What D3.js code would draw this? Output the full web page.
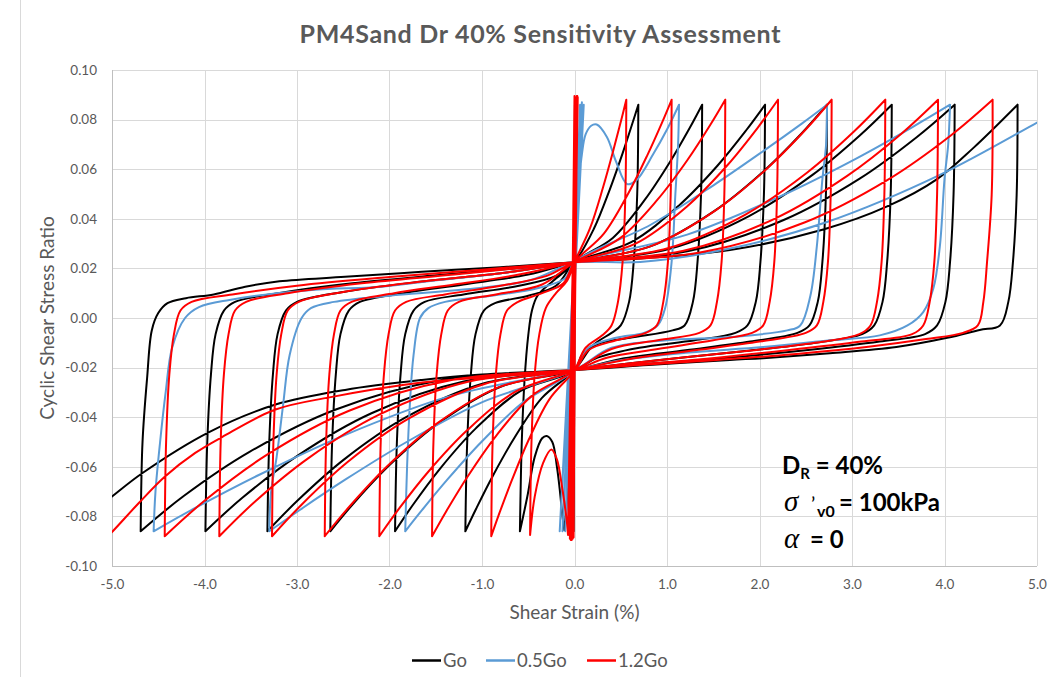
<!DOCTYPE html>
<html><head><meta charset="utf-8">
<script src="https://cdn.jsdelivr.net/npm/d3@7"></script>
<style>
body{margin:0;background:#fff;}
svg{display:block;}
</style>
</head><body>
<svg id="chart" width="1059" height="677"></svg>
<script>
// ---------- data ----------
const chartTitle = "PM4Sand Dr 40% Sensitivity Assessment";
const xAxisTitle = "Shear Strain (%)";
const yAxisTitle = "Cyclic Shear Stress Ratio";
const xTicks = [-5, -4, -3, -2, -1, 0, 1, 2, 3, 4, 5];
const yTicks = [-0.10, -0.08, -0.06, -0.04, -0.02, 0.00, 0.02, 0.04, 0.06, 0.08, 0.10];
const seriesNames = ["Go", "0.5Go", "1.2Go"];

// [shear strain %, cyclic shear stress ratio]
const goPoints = [
[0,0],[0.005,0.086],[-0.01,-0.086],[0.01,0.086],[-0.02,-0.086],[0.02,0.086],
[0.0,0.02],[-0.04,-0.04],[-0.08,-0.072],[-0.11,-0.0855],[-0.13,-0.08],[-0.16,-0.069],[-0.19,-0.06],[-0.24,-0.05],[-0.30,-0.0476],[-0.35,-0.0485],[-0.43,-0.056],[-0.51,-0.072],[-0.59,-0.086],
[-0.57,-0.05],[-0.54,-0.025],[-0.5,-0.007],[-0.46,0.003],[-0.40,0.009],[-0.23,0.015],[0,0.0225],
[0.207,0.0358],[0.38,0.0517],[0.518,0.0662],[0.621,0.0779],[0.69,0.086],
[0.678,0.05],[0.64,0.0226],[0.59,0.0065],[0.50,-0.003],[0.40,-0.006],[0.2,-0.011],[0,-0.021],
[-0.354,-0.0323],[-0.649,-0.0483],[-0.885,-0.0638],[-1.062,-0.0768],[-1.18,-0.086],
[-1.16,-0.05],[-1.12,-0.0226],[-1.07,-0.0065],[-0.98,0.003],[-0.86,0.006],[-0.5,0.009],[-0.2,0.013],[0,0.0225],
[0.414,0.0323],[0.759,0.0476],[1.035,0.0631],[1.242,0.0764],[1.38,0.086],
[1.368,0.05],[1.33,0.0226],[1.28,0.0065],[1.19,-0.003],[1.06,-0.005],[0.6,-0.008],[0.25,-0.0105],[0.08,-0.015],[0,-0.021],
[-0.582,-0.0294],[-1.067,-0.0445],[-1.455,-0.0608],[-1.746,-0.0753],[-1.94,-0.086],
[-1.92,-0.05],[-1.88,-0.0226],[-1.83,-0.0065],[-1.74,0.003],[-1.62,0.0065],[-1.2,0.0095],[-0.6,0.013],[-0.2,0.017],[0,0.0225],
[0.618,0.0307],[1.133,0.0455],[1.545,0.0614],[1.854,0.0756],[2.06,0.086],
[2.048,0.05],[2.01,0.0226],[1.96,0.0065],[1.87,-0.003],[1.74,-0.006],[1.3,-0.009],[0.7,-0.012],[0.25,-0.016],[0,-0.021],
[-0.792,-0.0276],[-1.452,-0.0419],[-1.98,-0.0586],[-2.376,-0.0742],[-2.64,-0.086],
[-2.62,-0.05],[-2.58,-0.0226],[-2.53,-0.0065],[-2.44,0.003],[-2.32,0.0065],[-1.85,0.010],[-1.2,0.0135],[-0.5,0.0175],[0,0.0225],
[0.819,0.0289],[1.502,0.0429],[2.048,0.0593],[2.457,0.0745],[2.73,0.086],
[2.718,0.05],[2.68,0.0226],[2.63,0.0065],[2.54,-0.003],[2.41,-0.006],[1.9,-0.0095],[1.2,-0.013],[0.5,-0.0165],[0,-0.021],
[-0.996,-0.0265],[-1.826,-0.0401],[-2.49,-0.057],[-2.988,-0.0734],[-3.32,-0.086],
[-3.30,-0.05],[-3.26,-0.0226],[-3.21,-0.0065],[-3.12,0.003],[-3.0,0.0065],[-2.5,0.0105],[-1.7,0.0145],[-0.8,0.018],[0,0.0225],
[1.029,0.0279],[1.887,0.0411],[2.573,0.0577],[3.087,0.0737],[3.43,0.086],
[3.418,0.05],[3.38,0.0226],[3.33,0.0065],[3.24,-0.003],[3.11,-0.0065],[2.6,-0.010],[1.8,-0.0135],[0.9,-0.017],[0,-0.021],
[-1.197,-0.0256],[-2.195,-0.0384],[-2.993,-0.0555],[-3.591,-0.0725],[-3.99,-0.086],
[-3.97,-0.05],[-3.93,-0.0226],[-3.88,-0.0065],[-3.79,0.003],[-3.67,0.0065],[-3.2,0.010],[-2.4,0.014],[-1.4,0.0175],[-0.5,0.0205],[0,0.0225],
[1.233,0.027],[2.261,0.0395],[3.083,0.0562],[3.699,0.0729],[4.11,0.086],
[4.098,0.05],[4.06,0.0226],[4.01,0.0065],[3.92,-0.003],[3.79,-0.0065],[3.3,-0.0095],[2.5,-0.013],[1.5,-0.0165],[0.6,-0.019],[0,-0.021],
[-1.407,-0.0248],[-2.58,-0.0369],[-3.518,-0.0541],[-4.221,-0.0717],[-4.69,-0.086],
[-4.67,-0.05],[-4.62,-0.024],[-4.57,-0.005],[-4.50,0.002],[-4.40,0.006],[-4.2,0.008],[-3.9,0.0095],[-3.56,0.0126],[-3.19,0.0148],[-2.48,0.0166],[-1.65,0.0186],[-0.8,0.0205],[0,0.0225],
[0.71,0.024],[1.68,0.0274],[2.69,0.0357],[3.38,0.045],[3.92,0.056],[4.31,0.0685],[4.79,0.086],
[4.78,0.0496],[4.74,0.0226],[4.69,0.0065],[4.6,-0.003],[4.38,-0.0048],[4.03,-0.008],[3.48,-0.0117],[2.76,-0.0142],[2.04,-0.0162],[1.68,-0.0169],[0.8,-0.019],[0,-0.021],
[-1.0,-0.0228],[-1.65,-0.025],[-2.48,-0.029],[-3.24,-0.035],[-3.95,-0.046],[-4.67,-0.0625],[-5.0,-0.072],[-5.3,-0.081]
];

const halfGoPoints = [
[0,0],[0.03,0.086],[-0.07,-0.086],[0.06,0.086],[-0.10,-0.086],[0.08,0.087],[-0.13,-0.086],[0.10,0.086],[-0.16,-0.086],
[-0.08,-0.03],[0.0,0.025],[0.05,0.055],[0.08,0.066],[0.12,0.074],[0.18,0.0775],[0.24,0.078],[0.35,0.073],[0.45,0.063],[0.57,0.054],[0.67,0.0556],[0.85,0.066],[1.0,0.076],[1.13,0.086],
[1.12,0.07],[1.09,0.0496],[1.05,0.0226],[0.98,0.004],[0.90,-0.003],[0.75,-0.006],[0.45,-0.008],[0.15,-0.012],[0,-0.021],
[-0.549,-0.0338],[-1.007,-0.050],[-1.373,-0.0651],[-1.647,-0.0774],[-1.83,-0.086],
[-1.81,-0.06],[-1.78,-0.035],[-1.74,-0.015],[-1.67,0.0],[-1.58,0.004],[-1.4,0.0065],[-0.9,0.009],[-0.4,0.012],[-0.1,0.016],[0,0.0225],
[0.819,0.0375],[1.502,0.0535],[2.048,0.0675],[2.457,0.0784],[2.73,0.086],
[2.72,0.07],[2.68,0.056],[2.62,0.029],[2.55,0.009],[2.44,-0.003],[2.3,-0.005],[1.68,-0.0077],[1.0,-0.009],[0.4,-0.012],[0,-0.021],
[-0.99,-0.0338],[-1.815,-0.050],[-2.475,-0.0651],[-2.97,-0.0774],[-3.30,-0.086],
[-3.28,-0.07],[-3.22,-0.056],[-3.15,-0.035],[-3.08,-0.015],[-2.95,0.0],[-2.85,0.004],[-2.6,0.0065],[-2.0,0.009],[-1.2,0.0115],[-0.5,0.015],[0,0.0225],
[1.218,0.0336],[2.233,0.0492],[3.045,0.0643],[3.654,0.077],[4.06,0.086],
[4.04,0.07],[4.0,0.056],[3.95,0.029],[3.88,0.012],[3.77,0.0024],[3.6,-0.003],[3.3,-0.007],[2.76,-0.009],[2.04,-0.0117],[1.2,-0.014],[0.5,-0.017],[0,-0.021],
[-1.365,-0.0317],[-2.503,-0.0475],[-3.413,-0.0633],[-4.095,-0.0765],[-4.55,-0.086],
[-4.53,-0.07],[-4.48,-0.05],[-4.42,-0.03],[-4.35,-0.012],[-4.21,0.0],[-4.06,0.0044],[-3.73,0.0073],[-2.84,0.0113],[-2.12,0.0125],[-1.65,0.0145],[-0.8,0.018],[0,0.0225],
[0.71,0.0226],[1.68,0.028],[2.73,0.0387],[3.95,0.0577],[5.01,0.079],[5.3,0.085]
];

const onePointTwoGoPoints = [
[0,0],[0.01,0.0885],[-0.01,-0.0885],[0.02,0.089],[-0.02,-0.089],[0.03,0.0895],[-0.03,-0.0895],[0.015,0.089],[-0.04,-0.0895],[0.0,0.0895],[-0.05,-0.089],[0.035,0.089],[-0.045,-0.0885],[0.025,0.0895],[-0.035,-0.0895],[0.01,0.0885],
[-0.02,0.02],[-0.05,-0.04],[-0.07,-0.0875],[-0.08,-0.083],[-0.10,-0.077],[-0.135,-0.068],[-0.19,-0.057],[-0.25,-0.053],[-0.34,-0.0585],[-0.43,-0.072],[-0.48,-0.0875],
[-0.465,-0.05],[-0.43,-0.0226],[-0.38,-0.0065],[-0.31,0.004],[-0.2,0.010],[-0.08,0.015],[0,0.0225],
[0.168,0.0362],[0.308,0.0526],[0.42,0.0676],[0.504,0.0796],[0.56,0.088],
[0.55,0.05],[0.52,0.0226],[0.47,0.0065],[0.40,-0.003],[0.3,-0.007],[0.12,-0.012],[0,-0.021],
[-0.27,-0.0327],[-0.495,-0.0491],[-0.675,-0.0652],[-0.81,-0.0785],[-0.90,-0.088],
[-0.885,-0.05],[-0.85,-0.0226],[-0.80,-0.0065],[-0.73,0.003],[-0.61,0.0065],[-0.35,0.010],[-0.12,0.014],[0,0.0225],
[0.315,0.0339],[0.578,0.050],[0.788,0.0657],[0.945,0.0787],[1.05,0.088],
[1.04,0.05],[1.01,0.0226],[0.96,0.0065],[0.89,-0.003],[0.77,-0.006],[0.45,-0.009],[0.15,-0.013],[0,-0.021],
[-0.462,-0.0314],[-0.847,-0.0475],[-1.155,-0.0639],[-1.386,-0.0779],[-1.54,-0.088],
[-1.525,-0.05],[-1.49,-0.0226],[-1.44,-0.0065],[-1.37,0.003],[-1.25,0.0065],[-0.85,0.0095],[-0.35,0.0135],[0,0.0225],
[0.489,0.0321],[0.897,0.0477],[1.223,0.0638],[1.467,0.0778],[1.63,0.088],
[1.62,0.05],[1.59,0.0226],[1.54,0.0065],[1.47,-0.003],[1.35,-0.006],[0.9,-0.009],[0.4,-0.0125],[0,-0.021],
[-0.633,-0.0296],[-1.161,-0.0453],[-1.583,-0.0621],[-1.899,-0.077],[-2.11,-0.088],
[-2.095,-0.05],[-2.06,-0.0226],[-2.01,-0.0065],[-1.94,0.003],[-1.82,0.0065],[-1.4,0.0095],[-0.8,0.013],[-0.3,0.017],[0,0.0225],
[0.66,0.030],[1.21,0.0448],[1.65,0.0615],[1.98,0.0767],[2.20,0.088],
[2.19,0.05],[2.16,0.0226],[2.11,0.0065],[2.04,-0.003],[1.92,-0.006],[1.5,-0.009],[0.9,-0.0125],[0.35,-0.016],[0,-0.021],
[-0.81,-0.0278],[-1.485,-0.0425],[-2.025,-0.0598],[-2.43,-0.0759],[-2.70,-0.088],
[-2.685,-0.05],[-2.65,-0.0226],[-2.60,-0.0065],[-2.53,0.003],[-2.41,0.0065],[-1.95,0.010],[-1.3,0.0135],[-0.6,0.0175],[0,0.0225],
[0.834,0.0291],[1.529,0.0435],[2.085,0.0604],[2.502,0.0761],[2.78,0.088],
[2.77,0.05],[2.74,0.0226],[2.69,0.0065],[2.62,-0.003],[2.50,-0.006],[2.0,-0.0095],[1.3,-0.013],[0.6,-0.0165],[0,-0.021],
[-0.981,-0.0267],[-1.799,-0.0407],[-2.453,-0.0581],[-2.943,-0.075],[-3.27,-0.088],
[-3.255,-0.05],[-3.22,-0.0226],[-3.17,-0.0065],[-3.10,0.003],[-2.98,0.0065],[-2.5,0.0105],[-1.7,0.0145],[-0.8,0.018],[0,0.0225],
[1.008,0.0281],[1.848,0.0417],[2.52,0.0588],[3.024,0.0753],[3.36,0.088],
[3.35,0.05],[3.32,0.0226],[3.27,0.0065],[3.20,-0.003],[3.08,-0.0065],[2.6,-0.010],[1.8,-0.0135],[0.9,-0.017],[0,-0.021],
[-1.152,-0.0257],[-2.112,-0.039],[-2.88,-0.0566],[-3.456,-0.0741],[-3.84,-0.088],
[-3.825,-0.05],[-3.79,-0.0226],[-3.74,-0.0065],[-3.67,0.003],[-3.55,0.0065],[-3.1,0.010],[-2.3,0.014],[-1.3,0.0175],[-0.5,0.0205],[0,0.0225],
[1.179,0.0271],[2.162,0.040],[2.948,0.0573],[3.537,0.0744],[3.93,0.088],
[3.92,0.05],[3.89,0.0226],[3.84,0.0065],[3.77,-0.003],[3.65,-0.0065],[3.1,-0.0095],[2.3,-0.013],[1.4,-0.0165],[0.6,-0.019],[0,-0.021],
[-1.329,-0.025],[-2.437,-0.0374],[-3.323,-0.0551],[-3.987,-0.0733],[-4.43,-0.088],
[-4.415,-0.05],[-4.38,-0.0226],[-4.33,-0.0065],[-4.26,0.003],[-4.14,0.0065],[-3.7,0.0095],[-3.0,0.013],[-2.0,0.0165],[-1.0,0.0195],[0,0.0225],
[1.356,0.0264],[2.486,0.0385],[3.39,0.0558],[4.068,0.0736],[4.52,0.088],
[4.51,0.0496],[4.46,0.0226],[4.42,0.0065],[4.36,-0.003],[4.2,-0.006],[3.8,-0.0085],[3.2,-0.0115],[2.4,-0.0145],[1.5,-0.017],[0.7,-0.019],[0,-0.021],
[-0.8,-0.0235],[-1.65,-0.026],[-2.65,-0.032],[-3.24,-0.037],[-3.81,-0.048],[-4.10,-0.0544],[-4.43,-0.064],[-4.71,-0.0746],[-5.0,-0.0863],[-5.1,-0.09]
];

const seriesValues = [goPoints, halfGoPoints, onePointTwoGoPoints];

// ---------- style / layout ----------
const seriesColors = ["#000000", "#5B9BD5", "#FF0000"];
const W = 1059, H = 677;
const plot = {left: 112, right: 1037, top: 70, bottom: 566};
const FONT = "Lato, 'Open Sans', sans-serif";
const TXT = "#595959";

const svg = d3.select("#chart");
svg.append("rect").attr("width", W).attr("height", H).attr("fill", "#fff");
svg.append("line").attr("x1", 20.5).attr("x2", 20.5).attr("y1", 0).attr("y2", H).attr("stroke", "#d9d9d9");

const x = d3.scaleLinear().domain([-5, 5]).range([plot.left, plot.right]);
const y = d3.scaleLinear().domain([-0.10, 0.10]).range([plot.bottom, plot.top]);

// gridlines
const grid = svg.append("g").attr("stroke", "#d9d9d9").attr("stroke-width", 1);
grid.selectAll("line.v").data(xTicks).join("line").attr("class", "v")
  .attr("x1", d => Math.round(x(d)) + 0.5).attr("x2", d => Math.round(x(d)) + 0.5)
  .attr("y1", plot.top).attr("y2", plot.bottom);
grid.selectAll("line.h").data(yTicks).join("line").attr("class", "h")
  .attr("x1", plot.left).attr("x2", plot.right)
  .attr("y1", d => Math.round(y(d)) + 0.5).attr("y2", d => Math.round(y(d)) + 0.5);

// axis lines
svg.append("line").attr("x1", plot.left + 0.5).attr("x2", plot.left + 0.5).attr("y1", plot.top).attr("y2", plot.bottom).attr("stroke", "#bfbfbf");
svg.append("line").attr("x1", plot.left).attr("x2", plot.right).attr("y1", plot.bottom + 0.5).attr("y2", plot.bottom + 0.5).attr("stroke", "#bfbfbf");

// axes (labels)
const gx = svg.append("g").attr("transform", `translate(0,${plot.bottom})`)
  .call(d3.axisBottom(x).tickValues(xTicks).tickSize(0).tickPadding(13).tickFormat(d => d.toFixed(1)));
gx.select(".domain").remove();
gx.selectAll("text").attr("fill", TXT).style("font-family", FONT).style("font-size", "13.5px");

const gy = svg.append("g").attr("transform", `translate(${plot.left},0)`)
  .call(d3.axisLeft(y).tickValues(yTicks).tickSize(0).tickPadding(15).tickFormat(d => d.toFixed(2)));
gy.select(".domain").remove();
gy.selectAll("text").attr("fill", TXT).style("font-family", FONT).style("font-size", "13.5px");

// clip
svg.append("clipPath").attr("id", "plotClip").append("rect")
  .attr("x", plot.left).attr("y", plot.top - 2)
  .attr("width", plot.right - plot.left).attr("height", plot.bottom - plot.top + 4);

// split each series at its stress reversals (peaks) so the reversal corners stay sharp
function splitAtPeaks(pts) {
  const segs = [];
  let cur = [pts[0]];
  for (let i = 1; i < pts.length; i++) {
    const p = pts[i], prev = pts[i - 1], next = pts[i + 1];
    cur.push(p);
    if (next && Math.abs(p[1]) >= 0.085 &&
        ((p[1] > prev[1] && p[1] >= next[1]) || (p[1] < prev[1] && p[1] <= next[1]))) {
      segs.push(cur);
      cur = [p];
    }
  }
  segs.push(cur);
  return segs;
}

const line = d3.line().x(d => x(d[0])).y(d => y(d[1])).curve(d3.curveCatmullRom.alpha(0.5));
const gLines = svg.append("g").attr("clip-path", "url(#plotClip)");
seriesValues.forEach((pts, i) => {
  const d = splitAtPeaks(pts).map(seg => line(seg)).join("");
  gLines.append("path").attr("d", d)
    .attr("fill", "none").attr("stroke", seriesColors[i])
    .attr("stroke-width", 2).attr("stroke-linejoin", "round").attr("stroke-linecap", "round");
});

// title
svg.append("text").attr("x", 540).attr("y", 43).attr("text-anchor", "middle")
  .attr("textLength", 481).attr("lengthAdjust", "spacing")
  .style("font-family", FONT).style("font-size", "25px").style("font-weight", "bold")
  .attr("fill", TXT).text(chartTitle);

// axis titles
svg.append("text").attr("x", (plot.left + plot.right) / 2).attr("y", 619).attr("text-anchor", "middle")
  .style("font-family", FONT).style("font-size", "19px").attr("fill", TXT).text(xAxisTitle);
svg.append("text").attr("transform", `translate(54,${(plot.top + plot.bottom) / 2}) rotate(-90)`)
  .attr("text-anchor", "middle")
  .style("font-family", FONT).style("font-size", "19px").attr("fill", TXT).text(yAxisTitle);

// legend
const legendX = [412, 486, 587];
const lg = svg.append("g");
seriesNames.forEach((name, i) => {
  lg.append("line").attr("x1", legendX[i]).attr("x2", legendX[i] + 29)
    .attr("y1", 660.5).attr("y2", 660.5).attr("stroke", seriesColors[i]).attr("stroke-width", 2.5);
  lg.append("text").attr("x", legendX[i] + 31).attr("y", 667)
    .style("font-family", FONT).style("font-size", "18.5px").attr("fill", TXT).text(name);
});

// annotation
const SERIF = "'Liberation Serif', 'DejaVu Serif', serif";
const ann = svg.append("g").style("font-family", FONT).style("font-weight", "bold").attr("fill", "#000");
const t1 = ann.append("text").attr("x", 782).attr("y", 474).style("font-size", "24px");
t1.append("tspan").text("D");
t1.append("tspan").attr("dy", 5).style("font-size", "15px").text("R");
t1.append("tspan").attr("dy", -5).text(" = 40%");
const t2 = ann.append("text").attr("x", 784).attr("y", 511).style("font-size", "24px");
t2.append("tspan").style("font-family", SERIF).style("font-style", "italic").style("font-weight", "normal").style("font-size", "29px").text("σ");
t2.append("tspan").attr("x", 811).style("font-weight", "normal").style("font-size", "20px").text("’");
t2.append("tspan").attr("x", 817).attr("dy", 6).style("font-size", "16px").text("v0");
t2.append("tspan").attr("x", 839).attr("dy", -6).text("= 100kPa");
const t3 = ann.append("text").attr("x", 784).attr("y", 548).style("font-size", "24px");
t3.append("tspan").style("font-family", SERIF).style("font-style", "italic").style("font-weight", "normal").style("font-size", "29px").text("α");
t3.append("tspan").attr("x", 810).text("= 0");
</script>
</body></html>
